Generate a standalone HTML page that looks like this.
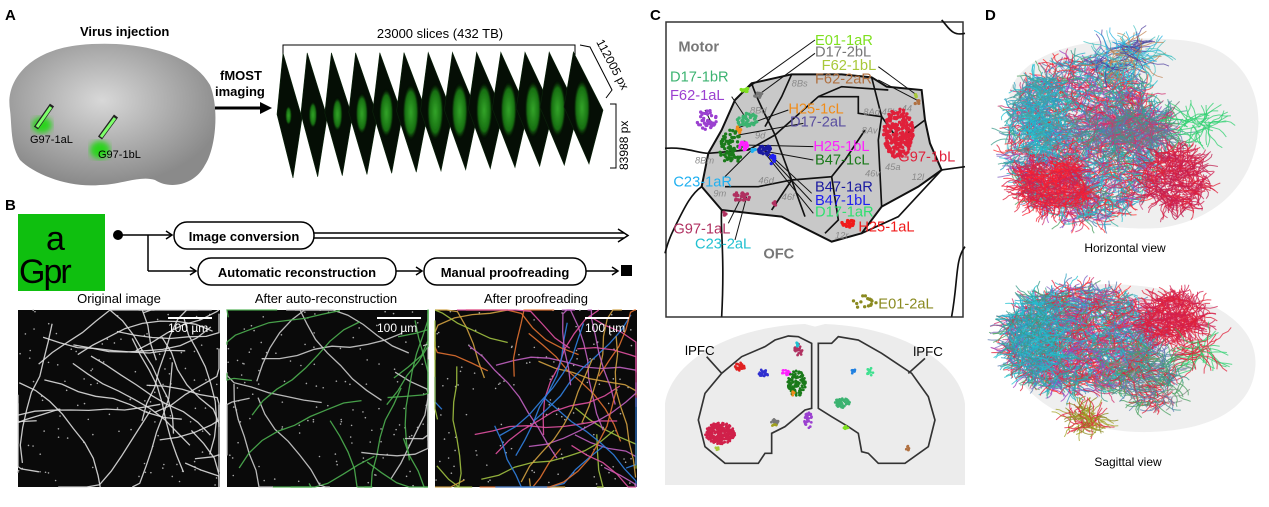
<!DOCTYPE html>
<html><head><meta charset="utf-8"><style>
html,body{margin:0;padding:0;background:#fff;width:1269px;height:507px;overflow:hidden}
svg{display:block;font-family:"Liberation Sans",Arial,sans-serif}
</style></head><body>
<svg id="s" width="1269" height="507" viewBox="0 0 1269 507" xmlns="http://www.w3.org/2000/svg">
<defs>
<radialGradient id="brain" cx="45%" cy="40%" r="60%"><stop offset="0" stop-color="#d8d8d8"/><stop offset="1" stop-color="#8a8a8a"/></radialGradient>
<radialGradient id="gl" cx="50%" cy="50%" r="50%"><stop offset="0" stop-color="#3cc030"/><stop offset="0.75" stop-color="#1a8014"/><stop offset="1" stop-color="#0a2a08" stop-opacity="0"/></radialGradient>
<filter id="bl"><feGaussianBlur stdDeviation="3"/></filter>
<filter id="bl1"><feGaussianBlur stdDeviation="0.6"/></filter>
</defs>
<!-- Panel A -->
<text x="5" y="20" font-size="15" font-weight="bold">A</text>
<text x="80" y="36" font-size="13" font-weight="bold">Virus injection</text>
<path d="M10,110 C5,80 30,50 80,45 C130,40 190,50 210,85 C220,110 215,150 205,165 C195,185 170,190 155,180 C140,175 120,185 100,185 C70,188 35,175 20,160 C10,145 12,125 10,110Z" fill="url(#brain)"/>
<ellipse cx="42" cy="125" rx="10" ry="8" fill="#2bd41a" filter="url(#bl)"/>
<ellipse cx="100" cy="150" rx="10" ry="9" fill="#2bd41a" filter="url(#bl)"/>
<line x1="36" y1="128" x2="52" y2="105" stroke="#222" stroke-width="5"/><line x1="37" y1="127" x2="51" y2="107" stroke="#7dff6a" stroke-width="3"/>
<line x1="100" y1="138" x2="116" y2="116" stroke="#222" stroke-width="5"/><line x1="101" y1="137" x2="115" y2="118" stroke="#7dff6a" stroke-width="3"/>
<text x="30" y="143" font-size="11">G97-1aL</text>
<text x="98" y="158" font-size="11">G97-1bL</text>
<text x="220" y="80" font-size="13" font-weight="bold">fMOST</text>
<text x="215" y="96" font-size="13" font-weight="bold">imaging</text>
<line x1="215" y1="108" x2="262" y2="108" stroke="#000" stroke-width="3"/>
<polygon points="272,108 260,102 260,114" fill="#000"/>
<path d="M283,55 V45 H575 V55" fill="none" stroke="#000"/>
<text x="440" y="38" font-size="13" text-anchor="middle">23000 slices (432 TB)</text>
<g id="slices"></g>
<path d="M580,45 L590,47 L612,90 L606,98" stroke="#000" fill="none"/>
<text transform="translate(596,42) rotate(62)" font-size="12">112005 px</text>
<path d="M610,104 L616,104 L616,168 L610,168" stroke="#000" fill="none"/>
<text transform="translate(628,170) rotate(-90)" font-size="12">83988 px</text>
<!-- Panel B -->
<text x="5" y="210" font-size="15" font-weight="bold">B</text>
<rect x="18" y="214" width="87" height="77" fill="#0fbf0f"/>
<text x="46" y="250" font-size="34">a</text>
<text x="19" y="283" font-size="34" letter-spacing="-2">Gpr</text>
<circle cx="118" cy="235" r="5" fill="#000"/>
<line x1="118" y1="235" x2="172" y2="235" stroke="#000" stroke-width="1.5"/>
<polyline points="166,231 172,235 166,239" fill="none" stroke="#000" stroke-width="1.5"/>
<line x1="148" y1="235" x2="148" y2="271" stroke="#000" stroke-width="1.5"/>
<line x1="148" y1="271" x2="196" y2="271" stroke="#000" stroke-width="1.5"/>
<polyline points="190,267 196,271 190,275" fill="none" stroke="#000" stroke-width="1.5"/>
<rect x="174" y="222" width="140" height="27" rx="13" fill="#fff" stroke="#000" stroke-width="1.5"/>
<text x="244" y="241" font-size="13" font-weight="bold" text-anchor="middle">Image conversion</text>
<line x1="314" y1="233" x2="624" y2="233" stroke="#000" stroke-width="1.5"/>
<line x1="314" y1="238" x2="624" y2="238" stroke="#000" stroke-width="1.5"/>
<polyline points="618,229 628,235.5 618,242" fill="none" stroke="#000" stroke-width="1.5"/>
<rect x="198" y="258" width="198" height="27" rx="13" fill="#fff" stroke="#000" stroke-width="1.5"/>
<text x="297" y="277" font-size="13" font-weight="bold" text-anchor="middle">Automatic reconstruction</text>
<line x1="396" y1="271" x2="422" y2="271" stroke="#000" stroke-width="1.5"/>
<polyline points="416,267 422,271 416,275" fill="none" stroke="#000" stroke-width="1.5"/>
<rect x="424" y="258" width="162" height="27" rx="13" fill="#fff" stroke="#000" stroke-width="1.5"/>
<text x="505" y="277" font-size="13" font-weight="bold" text-anchor="middle">Manual proofreading</text>
<line x1="586" y1="271" x2="618" y2="271" stroke="#000" stroke-width="1.5"/>
<polyline points="612,267 618,271 612,275" fill="none" stroke="#000" stroke-width="1.5"/>
<rect x="621" y="265" width="11" height="11" fill="#000"/>
<text x="119" y="303" font-size="13" text-anchor="middle">Original image</text>
<text x="326" y="303" font-size="13" text-anchor="middle">After auto-reconstruction</text>
<text x="536" y="303" font-size="13" text-anchor="middle">After proofreading</text>
<rect x="18" y="310" width="202" height="177" fill="#0a0a0a"/>
<rect x="227" y="310" width="201" height="177" fill="#0a0a0a"/>
<rect x="435" y="310" width="202" height="177" fill="#0a0a0a"/>
<g id="imgs"></g>
<g fill="#fff" font-size="12"><line x1="168" y1="318" x2="212" y2="318" stroke="#fff" stroke-width="2"/><text x="168" y="332">100 µm</text>
<line x1="377" y1="318" x2="421" y2="318" stroke="#fff" stroke-width="2"/><text x="377" y="332">100 µm</text>
<line x1="585" y1="318" x2="629" y2="318" stroke="#fff" stroke-width="2"/><text x="585" y="332">100 µm</text></g>
<!-- Panel C -->
<text x="650" y="20" font-size="15" font-weight="bold">C</text>
<rect x="666" y="22" width="297" height="295" fill="#fff" stroke="#333" stroke-width="1.5"/>
<g transform="translate(665,20) scale(0.3333)" font-size="44">
<path d="M170,330 L210,240 L260,190 L380,163 L530,163 L620,172 L665,200 L770,210 L780,300 L795,370 L830,450 L760,500 L650,560 L590,640 L500,665 L350,590 L170,570 L110,500 L130,400Z" fill="#c8c8c8" stroke="#111" stroke-width="6"/>
<g fill="none" stroke="#111" stroke-width="5">
<path d="M0,385 C60,380 100,400 130,400"/><path d="M110,500 C80,520 60,560 40,600 C20,640 10,660 0,700"/>
<path d="M830,0 C850,20 860,50 900,40"/><path d="M830,450 L900,440"/>
<path d="M170,570 C165,620 180,700 170,890"/><path d="M900,680 C870,720 880,780 860,890"/>
<path d="M260,190 C280,250 310,300 330,345"/><path d="M380,163 L350,230 L300,320"/>
<path d="M330,345 L460,230 L580,230 L580,280 L650,290"/><path d="M460,230 L530,200 L670,210"/>
<path d="M620,172 L650,290 L640,360 L650,560"/><path d="M650,290 L700,360 L780,300"/>
<path d="M330,345 L380,480 L320,570"/><path d="M380,480 L500,470 L540,420 L600,330"/>
<path d="M500,470 L520,600 L480,640"/><path d="M380,480 L420,590"/><path d="M130,400 L250,390 L330,345"/>
<path d="M180,500 L280,500 L380,480"/><path d="M590,640 L700,590 L830,450"/>
</g>
<g fill="#8a8a8a" font-style="italic" font-size="28"><text x="380" y="200">8Bs</text><text x="255" y="280">8Bd</text><text x="270" y="355">9d</text><text x="90" y="430">8Bm</text><text x="145" y="530">9m</text><text x="280" y="490">46d</text><text x="350" y="540">46f</text><text x="595" y="285">8Ad</text><text x="590" y="340">8Av</text><text x="650" y="285">45b</text><text x="710" y="275">44</text><text x="660" y="450">45a</text><text x="600" y="470">46v</text><text x="740" y="480">12l</text><text x="510" y="655">12r</text></g>
<text x="40" y="95" font-weight="bold" fill="#777">Motor</text><text x="295" y="715" font-weight="bold" fill="#777">OFC</text>
<g stroke="#111" stroke-width="3"><line x1="240" y1="210" x2="450" y2="60"/><line x1="280" y1="225" x2="450" y2="100"/><line x1="755" y1="225" x2="640" y2="140"/><line x1="755" y1="240" x2="640" y2="180"/><line x1="120" y1="270" x2="140" y2="310"/><line x1="200" y1="230" x2="240" y2="290"/><line x1="215" y1="325" x2="370" y2="270"/><line x1="220" y1="345" x2="415" y2="310"/><line x1="235" y1="375" x2="445" y2="380"/><line x1="250" y1="385" x2="445" y2="420"/><line x1="260" y1="390" x2="180" y2="470"/><line x1="300" y1="390" x2="440" y2="520"/><line x1="300" y1="395" x2="440" y2="545"/><line x1="300" y1="400" x2="445" y2="580"/><line x1="230" y1="530" x2="190" y2="610"/><line x1="245" y1="530" x2="210" y2="660"/></g>
<g id="cdots"></g>
<text x="450" y="75" fill="#7fe020">E01-1aR</text><text x="450" y="110" fill="#777">D17-2bL</text><text x="470" y="150" fill="#a8c83a">F62-1bL</text><text x="450" y="190" fill="#b07040">F62-2aR</text>
<text x="15" y="185" fill="#3cb371">D17-1bR</text><text x="15" y="240" fill="#9b40d0">F62-1aL</text>
<text x="370" y="280" fill="#f08c1a">H25-1cL</text><text x="375" y="320" fill="#5a4fa0">D17-2aL</text>
<text x="445" y="393" fill="#ff20ff">H25-1bL</text><text x="450" y="433" fill="#1a7a1a">B47-1cL</text>
<text x="25" y="500" fill="#20b0f0">C23-1aR</text><text x="450" y="515" fill="#1a1aa0">B47-1aR</text><text x="450" y="555" fill="#2020f0">B47-1bL</text><text x="450" y="590" fill="#30e070">D17-1aR</text>
<text x="700" y="425" fill="#e0203a">G97-1bL</text><text x="580" y="635" fill="#f01a1a">H25-1aL</text>
<text x="25" y="640" fill="#b03060">G97-1aL</text><text x="90" y="685" fill="#20c0d0">C23-2aL</text>
<text x="640" y="865" fill="#8a8a20">E01-2aL</text>
</g>
<!-- Panel C bottom brain -->
<g transform="translate(665,320) scale(0.3333)">
<path d="M0,495 L0,250 C20,120 200,20 420,12 L450,20 L480,12 C700,20 880,120 900,250 L900,495Z" fill="#ececec"/>
<path d="M440,70 L400,50 L370,48 L330,60 L300,80 L230,110 L170,160 L120,220 L100,300 L120,380 L180,430 L280,430 L300,400 L320,400 L320,340 L360,320 L420,270 L440,265Z" fill="none" stroke="#333" stroke-width="5"/>
<path d="M460,70 L500,70 L520,50 L580,60 L650,100 L740,160 L790,230 L810,300 L790,380 L720,430 L640,430 L610,400 L590,395 L580,340 L550,320 L500,290 L460,265Z" fill="none" stroke="#333" stroke-width="5"/>
<line x1="125" y1="110" x2="170" y2="160" stroke="#333" stroke-width="5"/><line x1="780" y1="115" x2="730" y2="160" stroke="#333" stroke-width="5"/>
<text x="60" y="105" font-size="40">lPFC</text><text x="745" y="108" font-size="40">lPFC</text>
<g id="bdots"></g>
</g>
<!-- Panel D -->
<text x="985" y="20" font-size="15" font-weight="bold">D</text>
<path d="M1010,90 C1030,40 1120,35 1180,40 C1240,45 1262,90 1258,130 C1255,180 1220,220 1160,228 C1090,232 1020,210 1005,160Z" fill="#efefef"/>
<path d="M1005,340 C1010,300 1060,280 1130,285 C1200,290 1262,320 1255,370 C1250,410 1210,430 1150,432 C1080,434 1010,400 1005,340Z" fill="#efefef"/>
<g id="dn"></g>
<text x="1125" y="252" font-size="12" text-anchor="middle">Horizontal view</text>
<text x="1128" y="466" font-size="12" text-anchor="middle">Sagittal view</text>
</svg>
<script>
(function(){
var NS="http://www.w3.org/2000/svg";
var seed=7;function r(){seed=(seed*16807)%2147483647;return (seed-1)/2147483646;}
function el(p,t,a){var e=document.createElementNS(NS,t);for(var k in a)e.setAttribute(k,a[k]);p.appendChild(e);return e;}
var G=document.getElementById("slices");
for(var i=0;i<13;i++){var t=i/12;var x=283+i*24.2;
 var w=25+t*14, h=125-t*13, ty=53-t*1;
 var pT=[x,ty],pR=[x+w*0.76,ty+h*0.52],pB=[x+w*0.4,ty+h],pL=[x-w*0.24,ty+h*0.49];
 el(G,"polygon",{points:[pT,pR,pB,pL].map(function(p){return p[0].toFixed(1)+","+p[1].toFixed(1)}).join(" "),fill:"#050e05",stroke:"#0c260c","stroke-width":0.6});
 var s=Math.min(1,0.15+t*2);
 el(G,"ellipse",{cx:x+w*0.22,cy:ty+h*0.5,rx:2+6*s,ry:6+22*s,fill:"url(#gl)",opacity:0.85,filter:"url(#bl1)"});}
var I=document.getElementById("imgs");
var pal=["#c060c0","#d0a040","#3080e0","#e07030","#a0c040","#e050a0"];
[18,227,435].forEach(function(x0,pi){
 for(var k=0;k<120;k++)el(I,"circle",{cx:x0+r()*200,cy:310+r()*176,r:0.8,fill:"#aaa"});
 for(var k=0;k<(pi==2?45:30);k++){var x=x0+r()*200,y=310+r()*176,d="M"+x+","+y;var a=r()*6.28;
  for(var j=0;j<8;j++){a+=(r()-0.5)*0.5;x+=Math.cos(a)*18;y+=Math.sin(a)*18;x=Math.max(x0,Math.min(x0+201,x));y=Math.max(310,Math.min(487,y));d+=" L"+x.toFixed(1)+","+y.toFixed(1);}
  var c=pi==0?"#ddd":pi==1?(r()<0.6?"#4caf50":"#ccc"):pal[k%6];
  el(I,"path",{d:d,fill:"none",stroke:c,"stroke-width":1.3,opacity:0.9});}
});
var C=document.getElementById("cdots");
function cl(cx,cy,rx,ry,n,c,rad){for(var k=0;k<n;k++){var a=r()*6.28,q=Math.sqrt(r());el(C,"circle",{cx:cx+Math.cos(a)*rx*q,cy:cy+Math.sin(a)*ry*q,r:rad||5,fill:c});}}
cl(240,210,12,8,8,"#7fe020");cl(280,225,15,8,10,"#777");cl(755,225,6,6,3,"#a8c83a");cl(755,245,8,10,5,"#b07040");
cl(125,300,30,30,40,"#9b40d0");cl(245,300,35,20,40,"#3cb371");cl(220,330,8,10,6,"#f08c1a");
cl(200,380,40,50,80,"#1a7a1a");cl(235,378,15,12,20,"#ff20ff");cl(300,390,20,15,25,"#1a1aa0");cl(325,420,10,15,12,"#2020f0");
cl(265,390,6,6,4,"#20b0f0");cl(230,530,25,15,25,"#b03060");cl(700,340,45,75,250,"#e0203a");cl(550,610,20,12,25,"#f01a1a");
cl(330,550,6,6,4,"#b03060");cl(180,580,5,8,3,"#b03060");cl(600,845,40,20,16,"#8a8a20");
var B=document.getElementById("bdots");
[[225,140,15,12,30,"#e02020"],[400,90,12,20,25,"#b03060"],[398,73,8,6,8,"#20c0d0"],[295,160,15,12,25,"#3030d0"],[360,158,15,8,15,"#ff20ff"],[395,190,28,38,120,"#1a7a1a"],[385,220,6,6,6,"#f08c1a"],[165,340,45,32,300,"#d0204a"],[330,305,12,8,15,"#777"],[325,315,10,5,6,"#a0a020"],[430,300,12,25,30,"#9b40d0"],[155,385,6,5,5,"#a8c83a"],[565,155,7,8,10,"#2080e0"],[615,155,10,12,12,"#40e090"],[532,248,22,15,60,"#3cb371"],[542,322,8,5,8,"#7fe020"],[728,385,6,7,8,"#b07040"]].forEach(function(p){
 for(var k=0;k<p[4];k++){var a=r()*6.28,q=Math.sqrt(r());el(B,"circle",{cx:p[0]+Math.cos(a)*p[2]*q,cy:p[1]+Math.sin(a)*p[3]*q,r:4,fill:p[5]});}});
var D=document.getElementById("dn");
var dc=["#e0203a","#20c0d0","#3a9a8a","#8060c0","#e0203a","#30b0a0","#d03070","#5a7ab0","#ff3030","#2aa0c0","#a040c0","#4aa060","#d04080","#2ab0c8"];
function neur(cx,cy,rx,ry,n,cols,len,w){for(var k=0;k<n;k++){var a0=r()*6.28,q=Math.sqrt(r());var x=cx+Math.cos(a0)*rx*q,y=cy+Math.sin(a0)*ry*q,d="M"+x.toFixed(1)+","+y.toFixed(1);var a=r()*6.28;
 for(var j=0;j<5;j++){a+=(r()-0.5)*1.2;x+=Math.cos(a)*(len||4);y+=Math.sin(a)*(len||4)*0.8;d+=" L"+x.toFixed(1)+","+y.toFixed(1);}
 el(D,"path",{d:d,fill:"none",stroke:cols[k%cols.length],"stroke-width":w||1,opacity:0.75});}}
/* horizontal */
neur(1085,140,78,82,2200,dc,4,1);
neur(1052,185,35,25,350,["#e0203a","#d02050","#ff2030"]);
neur(1040,115,22,40,250,["#20c0d0","#2aa0c0","#4aa0a0"]);
neur(1130,130,45,15,250,["#3a9a8a","#5a7ab0","#777","#d03070"],6,1);
neur(1175,180,28,30,350,["#e0203a","#d02050","#c02050"]);
neur(1125,57,25,14,140,["#20b0e0","#c08050","#40c0c0","#5040a0"],6,0.9);
neur(1195,125,22,5,40,["#30d070"],6,1);
/* sagittal */
neur(1080,340,75,52,2000,dc,4,1);
neur(1035,335,25,40,300,["#20c0d0","#2aa0c0","#3a9a8a"]);
neur(1172,318,30,22,350,["#e0203a","#d02050"]);
neur(1150,378,30,30,300,["#e0203a","#3a9a8a","#5a7ab0","#888","#4aa060"]);
neur(1085,418,16,10,90,["#8a8a20","#a0a020","#e0203a"]);
neur(1200,348,12,10,50,["#30d070","#e0203a"],6,1);
})();
</script>
</body></html>
